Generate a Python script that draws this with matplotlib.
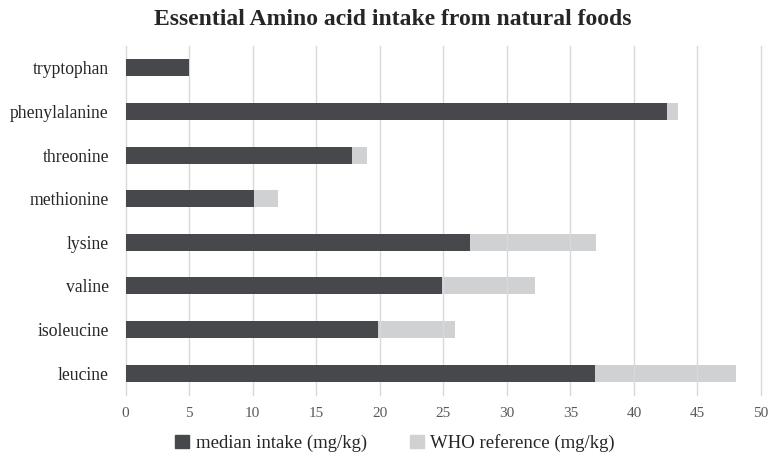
import matplotlib
matplotlib.use("Agg")
import matplotlib.pyplot as plt
from matplotlib.patches import Patch

# Essential amino acids (bottom to top on the chart)
amino_acids = ["leucine", "isoleucine", "valine", "lysine",
               "methionine", "threonine", "phenylalanine", "tryptophan"]
median_intake = [36.9, 19.9, 24.9, 27.1, 10.1, 17.85, 42.6, 5.0]
who_reference = [48.0, 25.95, 32.2, 37.0, 12.0, 19.0, 43.5, 4.0]
x_ticks = [0, 5, 10, 15, 20, 25, 30, 35, 40, 45, 50]

title = "Essential Amino acid intake from natural foods"
label_median = "median intake (mg/kg)"
label_who = "WHO reference (mg/kg)"

dark = "#47484b"
light = "#d0d1d3"
grid_c = "#d9d9d9"

plt.rcParams["font.family"] = ["Liberation Serif", "DejaVu Serif"]

fig = plt.figure(figsize=(7.73, 4.54), dpi=100)
ax = fig.add_axes([0.1624, 0.130, 0.8221, 0.7687])

ypos = list(range(len(amino_acids)))
bar_h = 0.39
ax.barh(ypos, who_reference, height=bar_h, color=light, zorder=1)
ax.barh(ypos, median_intake, height=bar_h, color=dark, zorder=3)

ax.set_xlim(0, 50)
ax.set_ylim(-0.5, len(amino_acids) - 0.5)
ax.set_xticks(x_ticks)
ax.set_yticks(ypos)
ax.set_yticklabels(amino_acids, fontsize=12.7, color="#262626")
ax.set_xticklabels([str(t) for t in x_ticks], fontsize=11, color="#595959")
for t in x_ticks:
    ax.axvline(t, color=grid_c, lw=1.0, zorder=2, clip_on=False)
ax.tick_params(axis="both", length=0)
ax.tick_params(axis="y", pad=12)
ax.tick_params(axis="x", pad=9)
for s in ax.spines.values():
    s.set_visible(False)

fig.text(0.508, 0.958, title, ha="center", va="center",
         fontsize=17, fontweight="bold", color="#262626")

handles = [Patch(color=dark), Patch(color=light)]
fig.legend(handles, [label_median, label_who], loc="center",
           bbox_to_anchor=(0.511, 0.024), ncol=2, frameon=False,
           fontsize=13.5, handlelength=0.75, handleheight=0.75,
           handletextpad=0.35, columnspacing=2.3, labelcolor="#262626")

fig.savefig("out.png", dpi=100)
